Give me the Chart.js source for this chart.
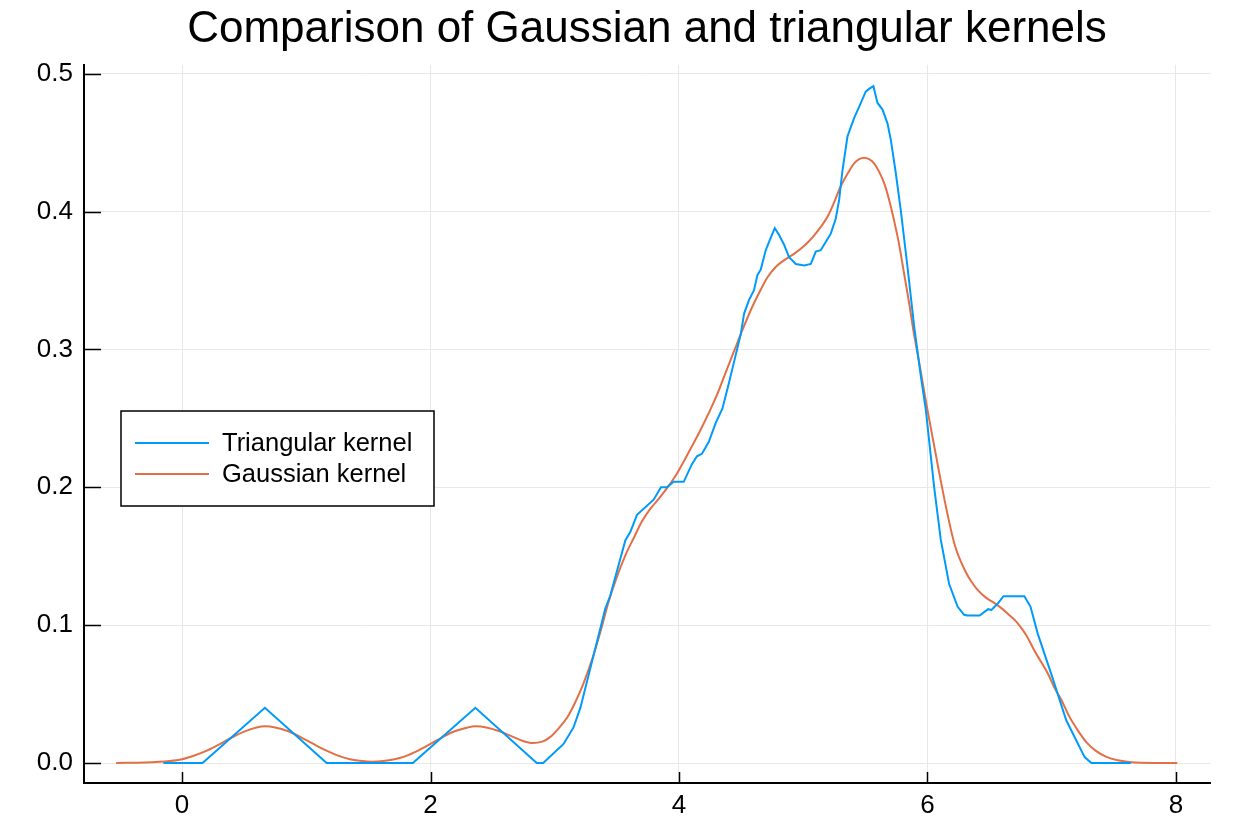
<!DOCTYPE html>
<html>
<head>
<meta charset="utf-8">
<script src="https://cdn.jsdelivr.net/npm/chart.js@4.4.1/dist/chart.umd.min.js"></script>
<style>
  html, body { margin: 0; padding: 0; background: #fff; }
  #chart { display: block; }
</style>
</head>
<body>
<canvas id="chart" width="1250" height="834"></canvas>
<script>
// values
const triX = [-0.15, 0.165, 0.667, 1.164, 1.858, 2.361, 2.855, 2.907, 3.071, 3.152, 3.206, 3.407, 3.447,
  3.568, 3.608, 3.662, 3.796, 3.855, 3.903, 3.957, 4.038, 4.105, 4.145, 4.186, 4.24, 4.295, 4.349, 4.4,
  4.443, 4.497, 4.524, 4.564, 4.604, 4.631, 4.658, 4.698, 4.738, 4.771, 4.806, 4.846, 4.886, 4.94,
  5.007, 5.061, 5.101, 5.141, 5.181, 5.222, 5.262, 5.289, 5.316, 5.356, 5.41, 5.45, 5.503, 5.53,
  5.565, 5.597, 5.638, 5.678, 5.705, 5.745, 5.785, 5.839, 5.893, 5.946, 5.987, 6.054, 6.107, 6.174,
  6.242, 6.295, 6.32, 6.42, 6.488, 6.515, 6.564, 6.612, 6.78, 6.829, 6.888, 6.996, 7.117, 7.265, 7.319, 7.637];
const triY = [0, 0, 0.04, 0, 0, 0.04, 0, 0, 0.0138, 0.026, 0.04, 0.112, 0.1215,
  0.1615, 0.1675, 0.18, 0.191, 0.2, 0.2, 0.204, 0.204, 0.217, 0.2225, 0.2245, 0.233, 0.2466, 0.257, 0.275,
  0.291, 0.311, 0.326, 0.336, 0.343, 0.354, 0.358, 0.372, 0.381, 0.388, 0.383, 0.376, 0.367, 0.362,
  0.361, 0.362, 0.371, 0.372, 0.378, 0.384, 0.395, 0.4085, 0.43, 0.4545, 0.468, 0.476, 0.487, 0.489,
  0.491, 0.479, 0.474, 0.464, 0.452, 0.428, 0.401, 0.36, 0.3165, 0.281, 0.256, 0.2, 0.162, 0.13,
  0.1135, 0.1075, 0.107, 0.107, 0.1116, 0.111, 0.1155, 0.121, 0.121, 0.1135, 0.0937, 0.0647, 0.031, 0.0043, 0, 0];

const gaussX = [-0.53, -0.3, -0.1, 0.0, 0.1, 0.2, 0.3, 0.4, 0.5, 0.6, 0.67, 0.75, 0.85, 0.95, 1.05,
  1.15, 1.25, 1.35, 1.45, 1.53, 1.6, 1.7, 1.8, 1.9, 2.0, 2.1, 2.2, 2.3, 2.36, 2.45, 2.55, 2.65, 2.75,
  2.82, 2.9, 2.96, 3.03, 3.1, 3.17, 3.23, 3.3, 3.37, 3.43, 3.5, 3.57, 3.64, 3.7, 3.77, 3.84, 3.9,
  3.97, 4.04, 4.1, 4.17, 4.24, 4.31, 4.37, 4.44, 4.51, 4.58, 4.65, 4.71, 4.78, 4.85, 4.92, 4.98,
  5.04, 5.09, 5.15, 5.2, 5.25, 5.3, 5.36, 5.41, 5.45, 5.49, 5.53, 5.57, 5.61, 5.65, 5.69, 5.73,
  5.77, 5.81, 5.85, 5.89, 5.94, 5.99, 6.05, 6.1, 6.16, 6.22, 6.3, 6.35, 6.4, 6.47, 6.54, 6.6,
  6.65, 6.7, 6.75, 6.8, 6.86, 6.91, 6.97, 7.02, 7.08, 7.14, 7.21, 7.28, 7.35, 7.44, 7.53, 7.62,
  7.72, 8.01];
const gaussY = [0, 0.0004, 0.0015, 0.0028, 0.0055, 0.009, 0.0135, 0.0185, 0.0228, 0.0258, 0.0266,
  0.0258, 0.0232, 0.019, 0.0142, 0.0095, 0.0055, 0.0028, 0.0014, 0.001, 0.0012, 0.0025, 0.005,
  0.009, 0.0138, 0.019, 0.0232, 0.0258, 0.0266, 0.0258, 0.0232, 0.0195, 0.0158, 0.0145, 0.0155,
  0.0186, 0.025, 0.033, 0.045, 0.0574, 0.075, 0.096, 0.116, 0.135, 0.151, 0.164, 0.175, 0.1845,
  0.192, 0.199, 0.208, 0.219, 0.229, 0.241, 0.254, 0.268, 0.282, 0.298, 0.314, 0.329, 0.342, 0.352, 0.36,
  0.365, 0.369, 0.373, 0.378, 0.383, 0.39, 0.397, 0.407, 0.418, 0.428, 0.435, 0.438, 0.439, 0.438,
  0.435, 0.429, 0.421, 0.409, 0.394, 0.377, 0.356, 0.335, 0.312, 0.287, 0.261, 0.232, 0.208, 0.181,
  0.158, 0.14, 0.132, 0.126, 0.12, 0.116, 0.112, 0.108, 0.104, 0.0986, 0.092, 0.0816, 0.074,
  0.0647, 0.055, 0.0454, 0.034, 0.0237, 0.015, 0.0092, 0.0045, 0.002, 0.0008, 0.0002, 0];

const xTicks = [0, 2, 4, 6, 8];
const yTicks = [0, 0.1, 0.2, 0.3, 0.4, 0.5];
const seriesNames = ['Triangular kernel', 'Gaussian kernel'];

const FONT = '"Liberation Sans", Arial, Helvetica, sans-serif';

function toPoints(xs, ys) {
    return xs.map((x, i) => ({ x: x, y: ys[i] }));
}

// julia-style ticks that point into the plot
const innerTicks = {
    id: 'innerTicks',
    afterDatasetsDraw(chart) {
        const ctx = chart.ctx;
        const area = chart.chartArea;
        const xs = chart.scales.x, ys = chart.scales.y;
        ctx.save();
        ctx.strokeStyle = '#000';
        ctx.lineWidth = 1.5;
        ctx.beginPath();
        xs.ticks.forEach(t => {
            const px = Math.round(xs.getPixelForValue(t.value)) + 0.5;
            ctx.moveTo(px, area.bottom);
            ctx.lineTo(px, area.bottom - 11);
        });
        ys.ticks.forEach(t => {
            const py = Math.round(ys.getPixelForValue(t.value)) + 0.5;
            ctx.moveTo(area.left, py);
            ctx.lineTo(area.left + 17, py);
        });
        ctx.stroke();
        ctx.restore();
    }
};

const boxLegend = {
    id: 'boxLegend',
    afterDraw(chart) {
        const ctx = chart.ctx;
        const left = 121, top = 411, w = 313, h = 95;
        ctx.save();
        ctx.fillStyle = '#fff';
        ctx.fillRect(left, top, w, h);
        ctx.strokeStyle = '#000';
        ctx.lineWidth = 1.5;
        ctx.strokeRect(left, top, w, h);
        ctx.font = '25.5px ' + FONT;
        ctx.textBaseline = 'middle';
        chart.data.datasets.forEach((ds, i) => {
            const y = top + 32 + i * 31;
            ctx.strokeStyle = ds.borderColor;
            ctx.lineWidth = 2;
            ctx.beginPath();
            ctx.moveTo(left + 14, y);
            ctx.lineTo(left + 88, y);
            ctx.stroke();
            ctx.fillStyle = '#000';
            ctx.fillText(ds.label, left + 101, y + 1);
        });
        ctx.restore();
    }
};

new Chart(document.getElementById('chart'), {
    type: 'line',
    data: {
        datasets: [{
            label: seriesNames[0],
            data: toPoints(triX, triY),
            borderColor: '#009AFA',
            borderWidth: 2,
            pointRadius: 0,
            tension: 0
        }, {
            label: seriesNames[1],
            data: toPoints(gaussX, gaussY),
            borderColor: '#E26F46',
            borderWidth: 2,
            pointRadius: 0,
            cubicInterpolationMode: 'monotone'
        }]
    },
    options: {
        responsive: false,
        animation: false,
        devicePixelRatio: 1,
        layout: { padding: { left: 0, right: 40, top: 0, bottom: 0 } },
        plugins: {
            legend: { display: false },
            tooltip: { enabled: false },
            title: {
                display: true,
                fullSize: false,
                text: 'Comparison of Gaussian and triangular kernels',
                color: '#000',
                font: { family: FONT, size: 44, weight: 'normal' },
                padding: { top: 3, bottom: 9 }
            }
        },
        scales: {
            x: {
                type: 'linear',
                min: -0.789,
                max: 8.274,
                afterBuildTicks: s => { s.ticks = xTicks.map(v => ({ value: v })); },
                afterFit: s => { s.height = 51; },
                ticks: {
                    color: '#000',
                    font: { family: FONT, size: 26 },
                    padding: 7,
                    maxRotation: 0,
                    callback: v => String(v)
                },
                grid: { color: '#e8e8e8', lineWidth: 1, drawTicks: false },
                border: { color: '#000', width: 2 }
            },
            y: {
                type: 'linear',
                min: -0.0145,
                max: 0.5065,
                afterBuildTicks: s => { s.ticks = yTicks.map(v => ({ value: v })); },
                afterFit: s => { s.width = 84; },
                ticks: {
                    color: '#000',
                    font: { family: FONT, size: 26 },
                    padding: 11,
                    callback: v => v.toFixed(1)
                },
                grid: { color: '#e8e8e8', lineWidth: 1, drawTicks: false },
                border: { color: '#000', width: 2 }
            }
        }
    },
    plugins: [innerTicks, boxLegend]
});
</script>
</body>
</html>
